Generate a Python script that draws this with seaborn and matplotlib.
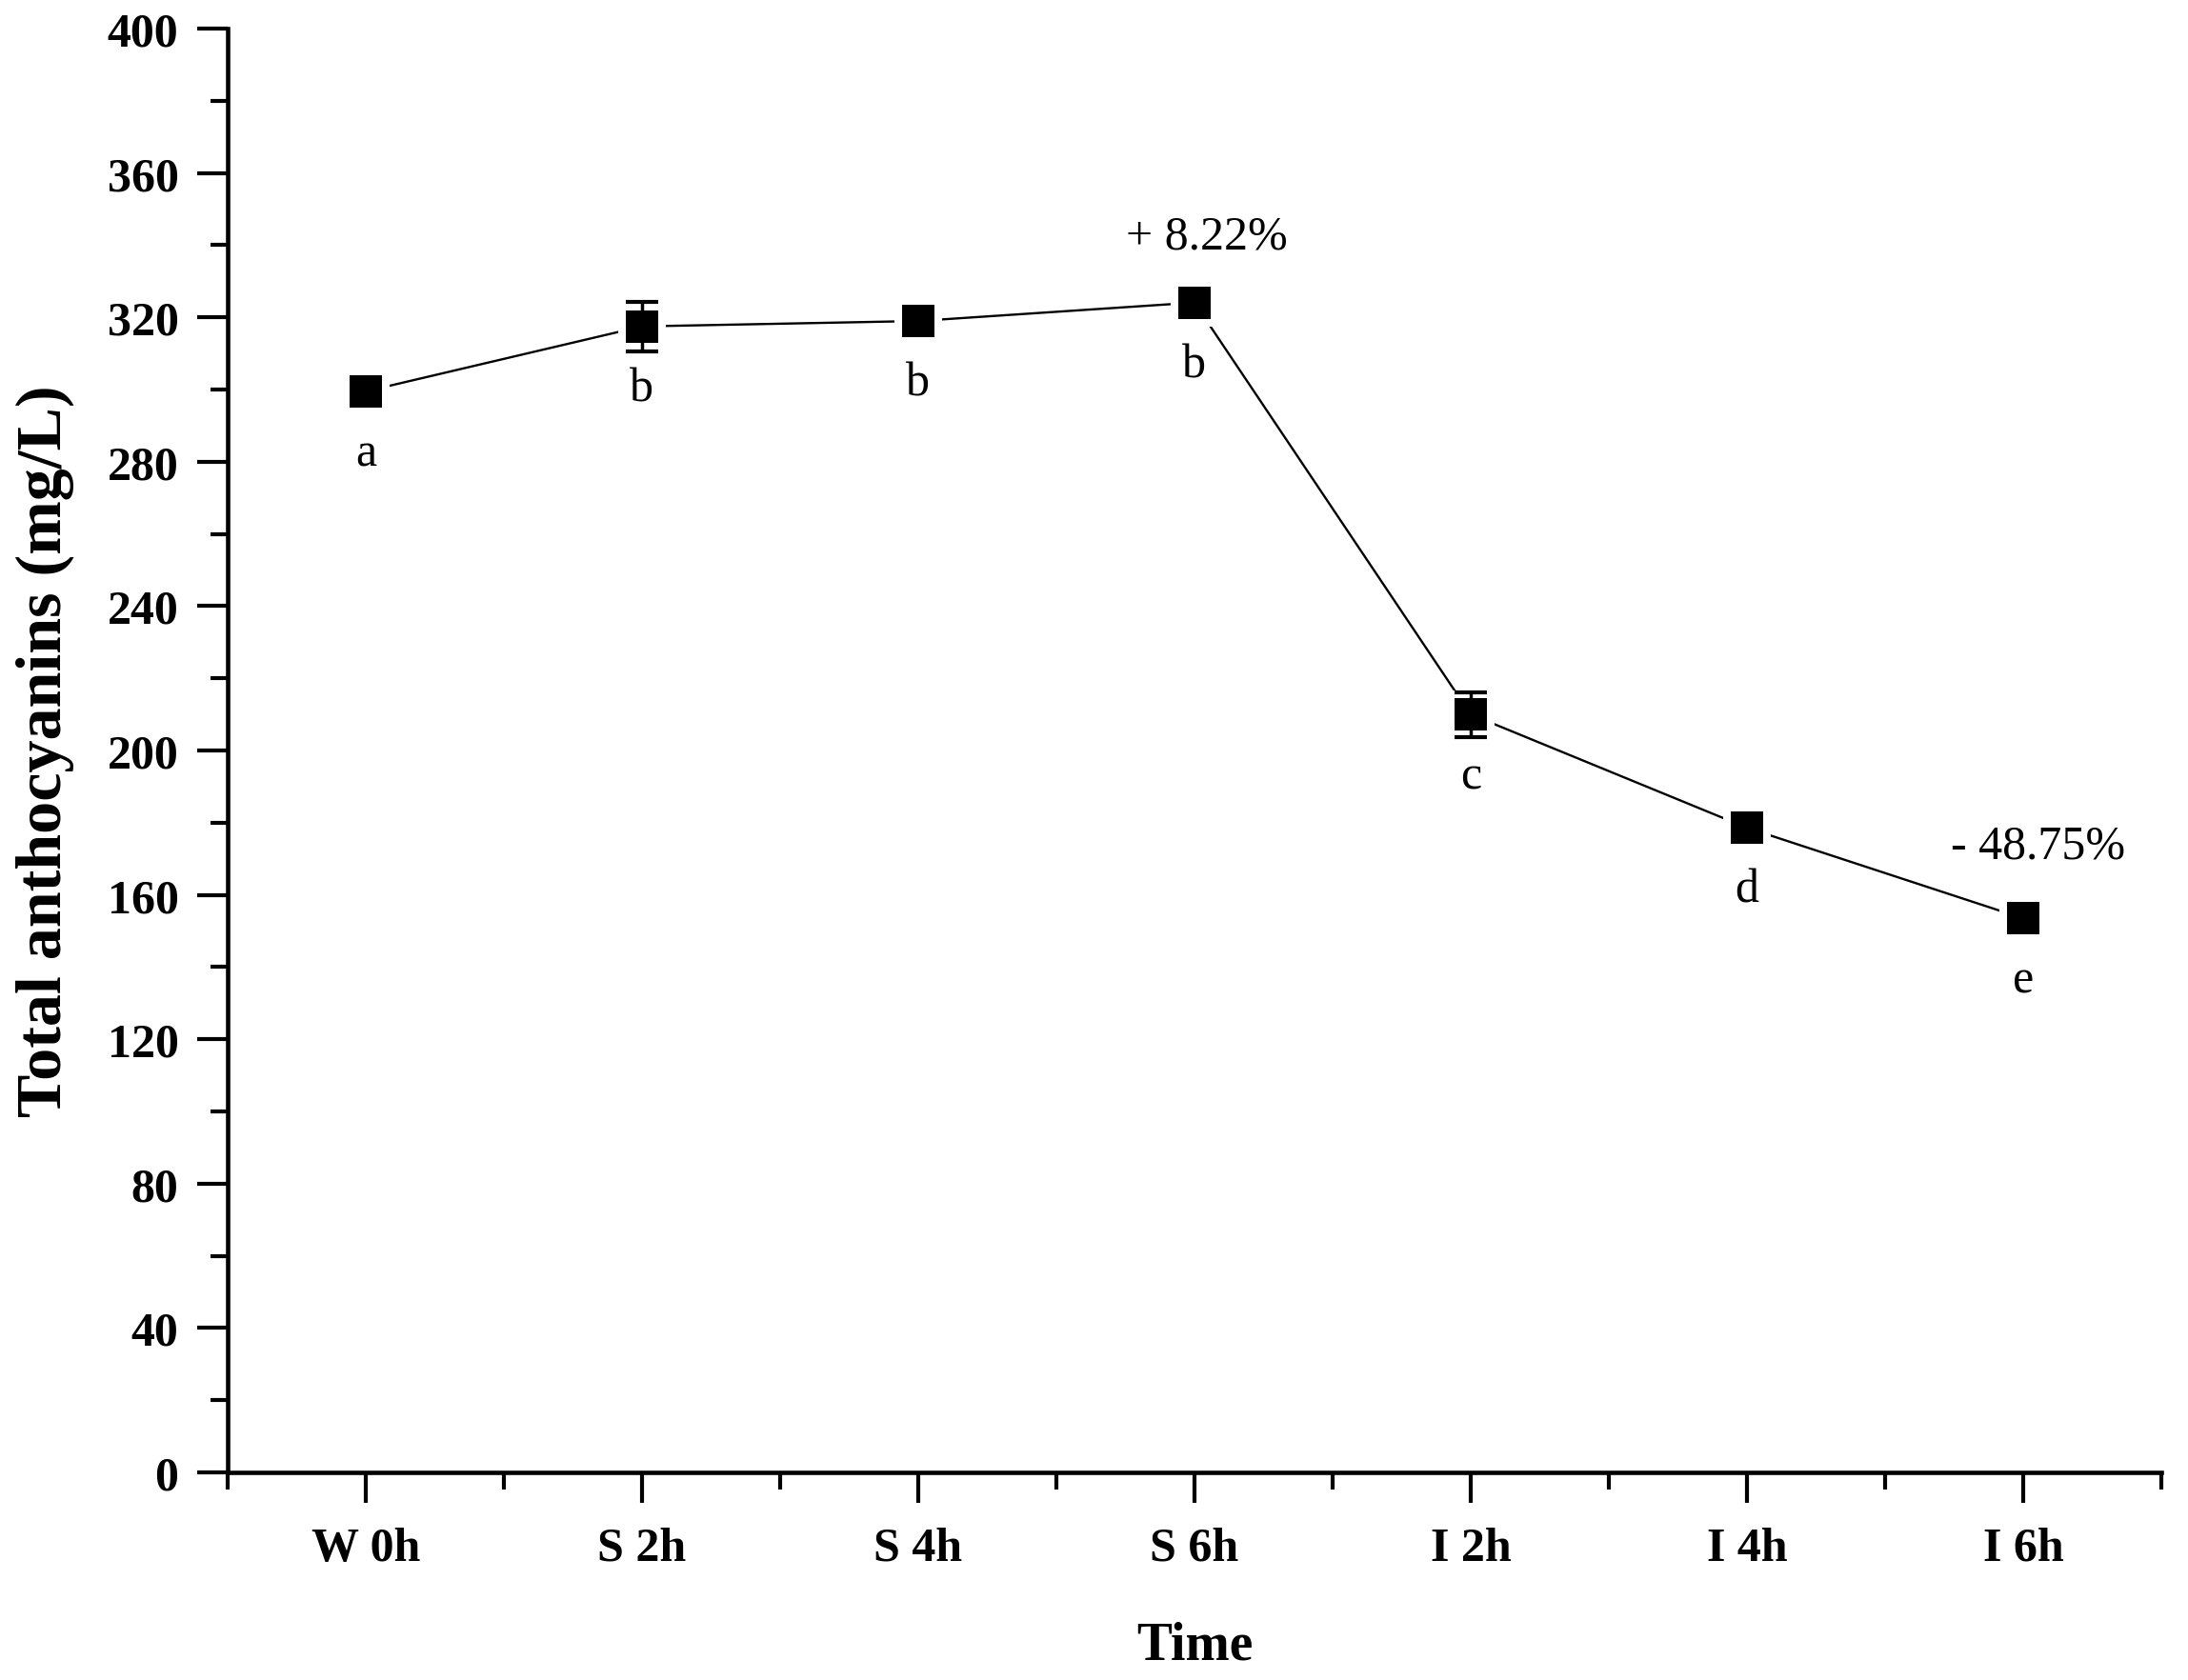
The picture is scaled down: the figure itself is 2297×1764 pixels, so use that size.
import matplotlib
matplotlib.use('Agg')
import matplotlib.pyplot as plt
import seaborn as sns
import numpy as np
import pandas as pd
from matplotlib.ticker import MultipleLocator, FixedLocator

# ---- data ----
categories = ["W 0h", "S 2h", "S 4h", "S 6h", "I 2h", "I 4h", "I 6h"]
values = [299.5, 317.5, 319.0, 324.1, 210.0, 178.6, 153.5]
errors = [2.0, 6.8, 2.0, 2.0, 6.2, 2.0, 2.0]
letters = ["a", "b", "b", "b", "c", "d", "e"]
change_idx = [3, 6]
change_text = ["+ 8.22%", "- 48.75%"]
y_ticks = list(range(0, 401, 40))

sns.set_theme(style="ticks")
plt.rcParams['font.family'] = ['Liberation Serif', 'DejaVu Serif']
plt.rcParams['text.color'] = 'black'
plt.rcParams['axes.labelcolor'] = 'black'
plt.rcParams['xtick.color'] = 'black'
plt.rcParams['ytick.color'] = 'black'
plt.rcParams['xtick.labelcolor'] = 'black'
plt.rcParams['ytick.labelcolor'] = 'black'

fig = plt.figure(figsize=(22.97, 17.65), dpi=100)
ax = fig.add_axes([0.104, 0.1235, 0.8838, 0.8589])

df = pd.DataFrame({'pos': np.arange(len(categories)), 'value': values,
                   'err': errors, 'letter': letters})

sns.lineplot(data=df, x='pos', y='value', color='black', linewidth=1.7,
             ax=ax, zorder=1)
# white halo so the line stops short of the markers
sns.scatterplot(data=df, x='pos', y='value', marker='s', s=1296,
                color='white', edgecolor='none', ax=ax, zorder=2)
ax.errorbar(df['pos'], df['value'], yerr=df['err'], fmt='none',
            ecolor='black', elinewidth=2.5, capsize=12, capthick=3, zorder=3)
sns.scatterplot(data=df, x='pos', y='value', marker='s', s=600,
                color='black', edgecolor='none', ax=ax, zorder=4)

# letters below markers
for p, v, l in zip(df['pos'], df['value'], df['letter']):
    ax.annotate(l, (p, v), xytext=(0, -47), textcoords='offset points',
                ha='center', va='center', fontsize=36, color='black')

# percent changes
offsets = [(9, 50), (11, 55)]
for i, t, off in zip(change_idx, change_text, offsets):
    ax.annotate(t, (i, values[i]), xytext=off, textcoords='offset points',
                ha='center', va='center', fontsize=36, color='black')

ax.set_xlim(-0.5, len(categories) - 0.5)
ax.set_ylim(0, 400)
ax.set_xticks(np.arange(len(categories)))
ax.set_xticklabels(categories)
ax.xaxis.set_minor_locator(FixedLocator(np.arange(-0.5, len(categories), 1.0)))
ax.set_yticks(y_ticks)
ax.yaxis.set_minor_locator(MultipleLocator(20))

for lab in ax.get_xticklabels() + ax.get_yticklabels():
    lab.set_fontweight('bold')
    lab.set_fontsize(36)
    lab.set_color('black')

ax.tick_params(axis='both', which='major', direction='out', length=23,
               width=3, color='black')
ax.tick_params(axis='both', which='minor', direction='out', length=13,
               width=3, color='black')
ax.tick_params(axis='y', which='major', pad=14)
ax.tick_params(axis='x', which='major', pad=18)

sns.despine(ax=ax)
for s in ['left', 'bottom']:
    ax.spines[s].set_linewidth(3.3)
    ax.spines[s].set_color('black')

ax.set_xlabel('Time', fontsize=40, fontweight='bold', labelpad=38,
              color='black')
ax.set_ylabel('Total anthocyanins (mg/L)', fontsize=49, fontweight='bold',
              labelpad=25, color='black')
ax.grid(False)

fig.savefig('out.png', dpi=100, facecolor='white')
